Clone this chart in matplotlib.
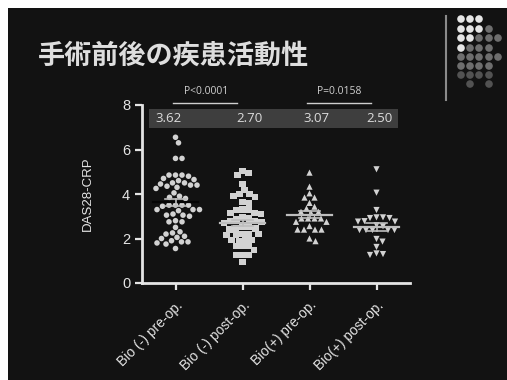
import numpy as np
import matplotlib.pyplot as plt
from matplotlib.patches import Rectangle
from matplotlib.lines import Line2D

plt.rcParams['font.family'] = ['Liberation Sans', 'DejaVu Sans']

# DAS28-CRP per patient
bio_neg_pre = [6.55, 6.3, 5.6, 5.6,
               4.85, 4.85, 4.85, 4.8, 4.7, 4.65, 4.6, 4.5, 4.4, 4.4, 4.35, 4.3, 4.25, 4.45, 4.5,
               4.05, 3.9, 3.85, 3.8,
               3.5, 3.5, 3.45, 3.5, 3.5,
               3.3, 3.3, 3.25, 3.3, 3.1,
               3.05, 3.0, 3.05,
               2.75, 2.8, 2.75, 2.5,
               2.3, 2.25, 2.2, 2.05, 2.1, 2.0,
               1.85, 1.85, 1.8, 1.9, 1.75, 1.55]
bio_neg_post = [5.03, 4.93, 4.85, 4.45, 4.18, 4.0, 4.0, 3.85, 3.9, 3.64, 3.6,
                3.28, 3.3, 3.3, 3.14, 3.1, 3.14,
                2.95, 2.9, 2.85, 2.8, 2.8, 2.75, 2.7,
                2.5, 2.45, 2.45, 2.4, 2.5,
                2.2, 2.2, 2.15, 2.15, 2.2,
                1.95, 1.95, 1.9, 1.95, 1.65, 1.65, 1.65, 1.48, 1.26, 1.26, 1.26, 0.96]
bio_pos_pre = [4.96, 4.33, 4.03, 3.84, 3.84, 3.6, 3.43, 3.35, 3.2, 3.2, 3.15,
               2.9, 2.9, 2.9, 2.9, 2.75, 2.75, 2.56, 2.4, 2.4, 2.4, 2.4, 2.0, 1.88]
bio_pos_post = [5.11, 4.06, 3.28, 2.95, 2.92, 2.92, 2.95, 2.78, 2.76, 2.76, 2.6, 2.55,
                2.38, 2.38, 2.38, 2.38, 2.38, 1.98, 1.86, 1.62, 1.33, 1.26, 1.3]

groups = [bio_neg_pre, bio_neg_post, bio_pos_pre, bio_pos_post]
group_labels = ['Bio (-) pre-op.', 'Bio (-) post-op.', 'Bio(+) pre-op.', 'Bio(+) post-op.']
means = [3.62, 2.70, 3.07, 2.50]
mean_labels = ['3.62', '2.70', '3.07', '2.50']
p_pairs = [(0, 1), (2, 3)]
p_labels = ['P<0.0001', 'P=0.0158']

markers = ['o', 's', '^', 'v']
marker_sizes = [16, 20, 20, 20]

BG = '#121212'
FG = '#e4e4e4'
PT = '#d2d2d2'

W, H = 507, 380
fig = plt.figure(figsize=(W / 100, H / 100), dpi=100, facecolor='white')
fig.patches.append(Rectangle((8 / W, 0), 1, 1 - 8 / H, transform=fig.transFigure,
                             facecolor=BG, edgecolor='none', zorder=-10))

# plot area: x 142..410 px, y=0 at 283 px, y=8 at 105 px
ax = fig.add_axes([142 / W, (H - 283) / H, (410 - 142) / W, (283 - 105) / H])
ax.set_facecolor('none')
ax.set_xlim(-0.5, 3.5)
ax.set_ylim(0, 8)
XPX = (410 - 142) / 4.0
YPX = (283 - 105) / 8.0


def swarm_offsets(values, d=6.2):
    """Simple beeswarm: shift each point sideways until it clears the placed ones."""
    ys = np.asarray(values, dtype=float) * YPX
    offs = np.zeros(len(ys))
    placed = []
    cands = [0.0]
    for k in range(1, 80):
        cands += [k * 0.5, -k * 0.5]
    for i in np.argsort(-ys, kind='stable'):
        for c in cands:
            if all((c - px) ** 2 + (ys[i] - py) ** 2 >= d * d for px, py in placed):
                break
        placed.append((c, ys[i]))
        offs[i] = c
    return offs / XPX


for i, vals in enumerate(groups):
    vals = np.asarray(vals)
    xs = i + swarm_offsets(vals)
    ax.scatter(xs, vals, s=marker_sizes[i], marker=markers[i], color=PT,
               edgecolors='none', zorder=3)
    sem = vals.std(ddof=1) / np.sqrt(len(vals))
    line_col = '#050505' if i == 0 else '#bdbdbd'
    ax.plot([i - 0.33, i + 0.33], [means[i], means[i]], color=line_col, lw=1.6, zorder=4)
    ax.plot([i, i], [means[i] - sem, means[i] + sem], color='#bdbdbd', lw=1.2, zorder=4)
    for yy in (means[i] - sem, means[i] + sem):
        ax.plot([i - 0.15, i + 0.15], [yy, yy], color='#bdbdbd', lw=1.2, zorder=4)

# mean values band
ax.add_patch(Rectangle((-0.395, 6.97), 3.715, 0.85, facecolor='#3e3e3e',
                       edgecolor='none', clip_on=False, zorder=2))
band_x = [-0.11, 1.11, 2.11, 3.05]
for bx, lab in zip(band_x, mean_labels):
    ax.text(bx, 7.38, lab, ha='center', va='center', color='#dcdcdc', fontsize=9.5,
            family=['Open Sans', 'DejaVu Sans'])

# significance
for (a, b), lab in zip(p_pairs, p_labels):
    ax.plot([a - 0.03, b - 0.08], [8.09, 8.09], color='#cfcfcf', lw=1.0, clip_on=False)
    ax.text((a + b) / 2 - 0.05, 8.6, lab, ha='center', va='center', color='#cfcfcf',
            fontsize=7.5, family=['Open Sans', 'DejaVu Sans'])

for side in ('top', 'right'):
    ax.spines[side].set_visible(False)
for side in ('left', 'bottom'):
    ax.spines[side].set_color(FG)
    ax.spines[side].set_linewidth(2)
ax.set_yticks([0, 2, 4, 6, 8])
ax.set_xticks(range(4))
ax.set_xticklabels(group_labels, rotation=45, ha='right', rotation_mode='anchor')
ax.tick_params(colors=FG, width=1.6, length=5, labelsize=10.5)
ax.tick_params(axis='x', labelsize=10, pad=6)
ax.set_ylabel('DAS28-CRP', color=FG, fontsize=9.5, labelpad=20)

fig.text(38 / W, 1 - 56 / H, '手術前後の疾患活動性', color='#dedede', fontsize=19.5,
         fontweight='bold', va='center', ha='left',
         family=['Noto Sans CJK JP', 'DejaVu Sans'])

# slide decoration: divider and dot grid
fig.lines.append(Line2D([446 / W, 446 / W], [1 - 16 / H, 1 - 100 / H],
                        transform=fig.transFigure, color='#8a8a8a', lw=1.5))
dot_cols = [461, 470, 479, 489, 498]
dot_rows = [19, 29, 38, 48, 57, 66, 75, 84]
dot_grid = ['WWW..', 'WWWg.', 'WWggg', 'Wggg.', 'ggggg', 'gggg.', 'dddd.', '.d.d.']
shade = {'W': '#e6e6e6', 'g': '#6e6e6e', 'd': '#525252'}
deco = fig.add_axes([0, 0, 1, 1], zorder=-5)
deco.set_xlim(0, W)
deco.set_ylim(H, 0)
deco.axis('off')
for r, row in zip(dot_rows, dot_grid):
    for c, ch in zip(dot_cols, row):
        if ch in shade:
            deco.scatter(c, r, s=30, color=shade[ch], edgecolors='none')

fig.savefig('out.png', dpi=100, facecolor=fig.get_facecolor())
